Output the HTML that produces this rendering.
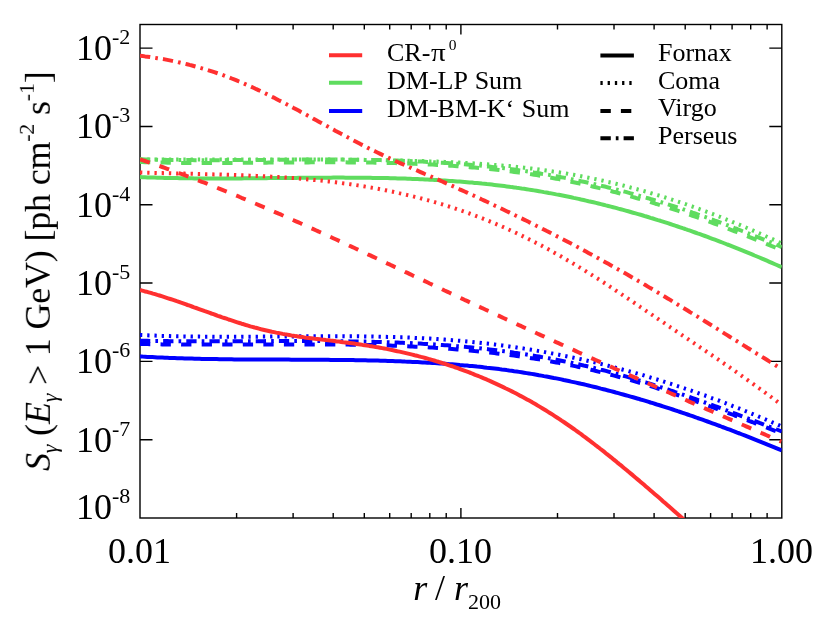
<!DOCTYPE html>
<html><head><meta charset="utf-8"><title>plot</title>
<style>
html,body{margin:0;padding:0;background:#fff;}
body{width:822px;height:617px;position:relative;overflow:hidden;font-family:"Liberation Serif",serif;color:#000;}
.t{position:absolute;white-space:nowrap;line-height:1;will-change:transform;}
.yl{font-size:36px;}
.yl sup{font-size:22px;position:relative;top:-16.4px;vertical-align:baseline;line-height:0;}
.xl{font-size:36px;}
.lg{font-size:26px;word-spacing:1.2px;}
sup.s{font-size:15.5px;position:relative;top:-11px;vertical-align:baseline;line-height:0;}
sub.s{font-size:22px;position:relative;top:8.7px;vertical-align:baseline;line-height:0;}
</style></head><body>
<svg width="822" height="617" viewBox="0 0 822 617" style="position:absolute;left:0;top:0">
<defs><clipPath id="c"><rect x="140.0" y="24.5" width="641.8" height="493.5"/></clipPath></defs>
<g stroke="#000" stroke-width="1.4" fill="none" shape-rendering="auto">
<rect x="140.0" y="24.5" width="641.80" height="493.50"/>
<path d="M236.60,518.0 v-5 M236.60,24.5 v5 M293.11,518.0 v-5 M293.11,24.5 v5 M333.20,518.0 v-5 M333.20,24.5 v5 M364.30,518.0 v-5 M364.30,24.5 v5 M389.71,518.0 v-5 M389.71,24.5 v5 M411.19,518.0 v-5 M411.19,24.5 v5 M429.80,518.0 v-5 M429.80,24.5 v5 M446.22,518.0 v-5 M446.22,24.5 v5 M460.90,518.0 v-10 M460.90,24.5 v10 M557.50,518.0 v-5 M557.50,24.5 v5 M614.01,518.0 v-5 M614.01,24.5 v5 M654.10,518.0 v-5 M654.10,24.5 v5 M685.20,518.0 v-5 M685.20,24.5 v5 M710.61,518.0 v-5 M710.61,24.5 v5 M732.09,518.0 v-5 M732.09,24.5 v5 M750.70,518.0 v-5 M750.70,24.5 v5 M767.12,518.0 v-5 M767.12,24.5 v5 M140.0,439.69 h12.5 M781.8,439.69 h-12.5 M140.0,361.38 h12.5 M781.8,361.38 h-12.5 M140.0,283.07 h12.5 M781.8,283.07 h-12.5 M140.0,204.76 h12.5 M781.8,204.76 h-12.5 M140.0,126.45 h12.5 M781.8,126.45 h-12.5 M140.0,48.14 h12.5 M781.8,48.14 h-12.5"/>
</g>
<g clip-path="url(#c)" fill="none" stroke-width="4" stroke-linejoin="round">
<path d="M140.0,177.1 L142.5,177.2 L145.0,177.3 L147.4,177.4 L149.9,177.5 L152.4,177.6 L154.9,177.6 L157.3,177.7 L159.8,177.8 L162.3,177.8 L164.8,177.9 L167.3,178.0 L169.7,178.0 L172.2,178.1 L174.7,178.1 L177.2,178.1 L179.6,178.2 L182.1,178.2 L184.6,178.3 L187.1,178.3 L189.6,178.3 L192.0,178.3 L194.5,178.4 L197.0,178.4 L199.5,178.4 L201.9,178.4 L204.4,178.4 L206.9,178.4 L209.4,178.4 L211.9,178.4 L214.3,178.4 L216.8,178.4 L219.3,178.4 L221.8,178.4 L224.3,178.4 L226.7,178.4 L229.2,178.4 L231.7,178.4 L234.2,178.4 L236.6,178.4 L239.1,178.4 L241.6,178.4 L244.1,178.3 L246.6,178.3 L249.0,178.3 L251.5,178.3 L254.0,178.3 L256.5,178.2 L258.9,178.2 L261.4,178.2 L263.9,178.2 L266.4,178.2 L268.9,178.1 L271.3,178.1 L273.8,178.1 L276.3,178.1 L278.8,178.0 L281.2,178.0 L283.7,178.0 L286.2,178.0 L288.7,177.9 L291.2,177.9 L293.6,177.9 L296.1,177.9 L298.6,177.8 L301.1,177.8 L303.5,177.8 L306.0,177.8 L308.5,177.8 L311.0,177.7 L313.5,177.7 L315.9,177.7 L318.4,177.7 L320.9,177.7 L323.4,177.7 L325.8,177.7 L328.3,177.7 L330.8,177.7 L333.3,177.6 L335.8,177.6 L338.2,177.6 L340.7,177.6 L343.2,177.6 L345.7,177.7 L348.2,177.7 L350.6,177.7 L353.1,177.7 L355.6,177.7 L358.1,177.7 L360.5,177.7 L363.0,177.8 L365.5,177.8 L368.0,177.8 L370.5,177.8 L372.9,177.9 L375.4,177.9 L377.9,177.9 L380.4,178.0 L382.8,178.0 L385.3,178.1 L387.8,178.1 L390.3,178.2 L392.8,178.3 L395.2,178.3 L397.7,178.4 L400.2,178.5 L402.7,178.5 L405.1,178.6 L407.6,178.7 L410.1,178.8 L412.6,178.9 L415.1,179.0 L417.5,179.1 L420.0,179.2 L422.5,179.3 L425.0,179.4 L427.4,179.5 L429.9,179.7 L432.4,179.8 L434.9,179.9 L437.4,180.1 L439.8,180.2 L442.3,180.4 L444.8,180.5 L447.3,180.7 L449.7,180.9 L452.2,181.0 L454.7,181.2 L457.2,181.4 L459.7,181.6 L462.1,181.8 L464.6,182.0 L467.1,182.2 L469.6,182.4 L472.1,182.6 L474.5,182.9 L477.0,183.1 L479.5,183.3 L482.0,183.6 L484.4,183.8 L486.9,184.1 L489.4,184.3 L491.9,184.6 L494.4,184.9 L496.8,185.2 L499.3,185.5 L501.8,185.8 L504.3,186.1 L506.7,186.4 L509.2,186.7 L511.7,187.1 L514.2,187.4 L516.7,187.8 L519.1,188.1 L521.6,188.5 L524.1,188.8 L526.6,189.2 L529.0,189.6 L531.5,190.0 L534.0,190.4 L536.5,190.8 L539.0,191.2 L541.4,191.6 L543.9,192.1 L546.4,192.5 L548.9,193.0 L551.3,193.4 L553.8,193.9 L556.3,194.4 L558.8,194.8 L561.3,195.3 L563.7,195.8 L566.2,196.3 L568.7,196.8 L571.2,197.3 L573.6,197.9 L576.1,198.4 L578.6,198.9 L581.1,199.5 L583.6,200.0 L586.0,200.6 L588.5,201.2 L591.0,201.7 L593.5,202.3 L596.0,202.9 L598.4,203.5 L600.9,204.1 L603.4,204.7 L605.9,205.4 L608.3,206.0 L610.8,206.6 L613.3,207.3 L615.8,207.9 L618.3,208.6 L620.7,209.2 L623.2,209.9 L625.7,210.6 L628.2,211.3 L630.6,212.0 L633.1,212.7 L635.6,213.4 L638.1,214.1 L640.6,214.8 L643.0,215.5 L645.5,216.3 L648.0,217.0 L650.5,217.8 L652.9,218.5 L655.4,219.3 L657.9,220.1 L660.4,220.8 L662.9,221.6 L665.3,222.4 L667.8,223.2 L670.3,224.0 L672.8,224.8 L675.2,225.7 L677.7,226.5 L680.2,227.3 L682.7,228.2 L685.2,229.0 L687.6,229.9 L690.1,230.7 L692.6,231.6 L695.1,232.5 L697.5,233.4 L700.0,234.2 L702.5,235.1 L705.0,236.0 L707.5,236.9 L709.9,237.9 L712.4,238.8 L714.9,239.7 L717.4,240.6 L719.9,241.6 L722.3,242.5 L724.8,243.5 L727.3,244.5 L729.8,245.4 L732.2,246.4 L734.7,247.4 L737.2,248.4 L739.7,249.4 L742.2,250.4 L744.6,251.4 L747.1,252.4 L749.6,253.4 L752.1,254.4 L754.5,255.5 L757.0,256.5 L759.5,257.5 L762.0,258.6 L764.5,259.7 L766.9,260.7 L769.4,261.8 L771.9,262.9 L774.4,264.0 L776.8,265.0 L779.3,266.1 L781.8,267.2" stroke="#5fdc5f"/>
<path d="M140.0,159.5 L142.5,159.5 L145.0,159.5 L147.4,159.5 L149.9,159.5 L152.4,159.5 L154.9,159.5 L157.3,159.6 L159.8,159.6 L162.3,159.6 L164.8,159.6 L167.3,159.6 L169.7,159.6 L172.2,159.6 L174.7,159.6 L177.2,159.6 L179.6,159.6 L182.1,159.6 L184.6,159.6 L187.1,159.6 L189.6,159.6 L192.0,159.6 L194.5,159.6 L197.0,159.5 L199.5,159.5 L201.9,159.5 L204.4,159.5 L206.9,159.5 L209.4,159.5 L211.9,159.5 L214.3,159.5 L216.8,159.5 L219.3,159.5 L221.8,159.5 L224.3,159.5 L226.7,159.5 L229.2,159.5 L231.7,159.5 L234.2,159.5 L236.6,159.5 L239.1,159.5 L241.6,159.4 L244.1,159.4 L246.6,159.4 L249.0,159.4 L251.5,159.4 L254.0,159.4 L256.5,159.4 L258.9,159.4 L261.4,159.4 L263.9,159.4 L266.4,159.4 L268.9,159.4 L271.3,159.4 L273.8,159.4 L276.3,159.4 L278.8,159.4 L281.2,159.4 L283.7,159.4 L286.2,159.4 L288.7,159.4 L291.2,159.4 L293.6,159.4 L296.1,159.4 L298.6,159.4 L301.1,159.4 L303.5,159.4 L306.0,159.4 L308.5,159.4 L311.0,159.4 L313.5,159.5 L315.9,159.5 L318.4,159.5 L320.9,159.5 L323.4,159.5 L325.8,159.5 L328.3,159.5 L330.8,159.5 L333.3,159.6 L335.8,159.6 L338.2,159.6 L340.7,159.6 L343.2,159.6 L345.7,159.7 L348.2,159.7 L350.6,159.7 L353.1,159.7 L355.6,159.8 L358.1,159.8 L360.5,159.8 L363.0,159.9 L365.5,159.9 L368.0,159.9 L370.5,160.0 L372.9,160.0 L375.4,160.0 L377.9,160.1 L380.4,160.1 L382.8,160.2 L385.3,160.2 L387.8,160.3 L390.3,160.3 L392.8,160.4 L395.2,160.4 L397.7,160.5 L400.2,160.5 L402.7,160.6 L405.1,160.6 L407.6,160.7 L410.1,160.8 L412.6,160.8 L415.1,160.9 L417.5,161.0 L420.0,161.0 L422.5,161.1 L425.0,161.2 L427.4,161.3 L429.9,161.4 L432.4,161.4 L434.9,161.5 L437.4,161.6 L439.8,161.7 L442.3,161.8 L444.8,161.9 L447.3,162.0 L449.7,162.1 L452.2,162.2 L454.7,162.4 L457.2,162.5 L459.7,162.6 L462.1,162.7 L464.6,162.9 L467.1,163.0 L469.6,163.1 L472.1,163.3 L474.5,163.4 L477.0,163.6 L479.5,163.8 L482.0,163.9 L484.4,164.1 L486.9,164.3 L489.4,164.5 L491.9,164.7 L494.4,164.9 L496.8,165.1 L499.3,165.3 L501.8,165.5 L504.3,165.7 L506.7,165.9 L509.2,166.1 L511.7,166.4 L514.2,166.6 L516.7,166.9 L519.1,167.1 L521.6,167.4 L524.1,167.7 L526.6,168.0 L529.0,168.3 L531.5,168.5 L534.0,168.9 L536.5,169.2 L539.0,169.5 L541.4,169.8 L543.9,170.1 L546.4,170.5 L548.9,170.8 L551.3,171.2 L553.8,171.6 L556.3,171.9 L558.8,172.3 L561.3,172.7 L563.7,173.1 L566.2,173.5 L568.7,174.0 L571.2,174.4 L573.6,174.8 L576.1,175.3 L578.6,175.7 L581.1,176.2 L583.6,176.7 L586.0,177.2 L588.5,177.7 L591.0,178.2 L593.5,178.7 L596.0,179.2 L598.4,179.7 L600.9,180.3 L603.4,180.8 L605.9,181.4 L608.3,182.0 L610.8,182.5 L613.3,183.1 L615.8,183.7 L618.3,184.3 L620.7,184.9 L623.2,185.5 L625.7,186.2 L628.2,186.8 L630.6,187.5 L633.1,188.1 L635.6,188.8 L638.1,189.5 L640.6,190.1 L643.0,190.8 L645.5,191.5 L648.0,192.2 L650.5,193.0 L652.9,193.7 L655.4,194.4 L657.9,195.2 L660.4,195.9 L662.9,196.7 L665.3,197.5 L667.8,198.3 L670.3,199.1 L672.8,199.9 L675.2,200.7 L677.7,201.5 L680.2,202.3 L682.7,203.2 L685.2,204.0 L687.6,204.9 L690.1,205.7 L692.6,206.6 L695.1,207.5 L697.5,208.4 L700.0,209.3 L702.5,210.2 L705.0,211.1 L707.5,212.1 L709.9,213.0 L712.4,213.9 L714.9,214.9 L717.4,215.9 L719.9,216.8 L722.3,217.8 L724.8,218.8 L727.3,219.8 L729.8,220.8 L732.2,221.8 L734.7,222.8 L737.2,223.8 L739.7,224.8 L742.2,225.9 L744.6,226.9 L747.1,228.0 L749.6,229.0 L752.1,230.1 L754.5,231.2 L757.0,232.3 L759.5,233.4 L762.0,234.5 L764.5,235.6 L766.9,236.7 L769.4,237.8 L771.9,238.9 L774.4,240.0 L776.8,241.2 L779.3,242.3 L781.8,243.5" stroke="#5fdc5f" stroke-dasharray="2.3 4.93"/>
<path d="M140.0,162.1 L142.5,162.1 L145.0,162.2 L147.4,162.3 L149.9,162.3 L152.4,162.4 L154.9,162.5 L157.3,162.5 L159.8,162.6 L162.3,162.6 L164.8,162.6 L167.3,162.7 L169.7,162.7 L172.2,162.8 L174.7,162.8 L177.2,162.8 L179.6,162.8 L182.1,162.9 L184.6,162.9 L187.1,162.9 L189.6,162.9 L192.0,162.9 L194.5,163.0 L197.0,163.0 L199.5,163.0 L201.9,163.0 L204.4,163.0 L206.9,163.0 L209.4,163.0 L211.9,163.0 L214.3,163.0 L216.8,163.0 L219.3,163.0 L221.8,163.0 L224.3,163.0 L226.7,162.9 L229.2,162.9 L231.7,162.9 L234.2,162.9 L236.6,162.9 L239.1,162.9 L241.6,162.9 L244.1,162.8 L246.6,162.8 L249.0,162.8 L251.5,162.8 L254.0,162.8 L256.5,162.7 L258.9,162.7 L261.4,162.7 L263.9,162.7 L266.4,162.7 L268.9,162.6 L271.3,162.6 L273.8,162.6 L276.3,162.6 L278.8,162.6 L281.2,162.5 L283.7,162.5 L286.2,162.5 L288.7,162.5 L291.2,162.5 L293.6,162.4 L296.1,162.4 L298.6,162.4 L301.1,162.4 L303.5,162.4 L306.0,162.4 L308.5,162.4 L311.0,162.3 L313.5,162.3 L315.9,162.3 L318.4,162.3 L320.9,162.3 L323.4,162.3 L325.8,162.3 L328.3,162.3 L330.8,162.3 L333.3,162.3 L335.8,162.3 L338.2,162.3 L340.7,162.3 L343.2,162.3 L345.7,162.3 L348.2,162.4 L350.6,162.4 L353.1,162.4 L355.6,162.4 L358.1,162.4 L360.5,162.5 L363.0,162.5 L365.5,162.5 L368.0,162.5 L370.5,162.6 L372.9,162.6 L375.4,162.7 L377.9,162.7 L380.4,162.8 L382.8,162.8 L385.3,162.9 L387.8,162.9 L390.3,163.0 L392.8,163.1 L395.2,163.1 L397.7,163.2 L400.2,163.3 L402.7,163.3 L405.1,163.4 L407.6,163.5 L410.1,163.6 L412.6,163.7 L415.1,163.8 L417.5,163.9 L420.0,164.0 L422.5,164.1 L425.0,164.2 L427.4,164.4 L429.9,164.5 L432.4,164.6 L434.9,164.7 L437.4,164.9 L439.8,165.0 L442.3,165.2 L444.8,165.3 L447.3,165.5 L449.7,165.7 L452.2,165.8 L454.7,166.0 L457.2,166.2 L459.7,166.4 L462.1,166.5 L464.6,166.7 L467.1,166.9 L469.6,167.2 L472.1,167.4 L474.5,167.6 L477.0,167.8 L479.5,168.0 L482.0,168.3 L484.4,168.5 L486.9,168.8 L489.4,169.0 L491.9,169.3 L494.4,169.5 L496.8,169.8 L499.3,170.1 L501.8,170.4 L504.3,170.7 L506.7,171.0 L509.2,171.3 L511.7,171.6 L514.2,171.9 L516.7,172.2 L519.1,172.6 L521.6,172.9 L524.1,173.3 L526.6,173.6 L529.0,174.0 L531.5,174.3 L534.0,174.7 L536.5,175.1 L539.0,175.5 L541.4,175.9 L543.9,176.4 L546.4,176.8 L548.9,177.3 L551.3,177.7 L553.8,178.2 L556.3,178.7 L558.8,179.1 L561.3,179.6 L563.7,180.1 L566.2,180.6 L568.7,181.1 L571.2,181.7 L573.6,182.2 L576.1,182.7 L578.6,183.3 L581.1,183.8 L583.6,184.4 L586.0,184.9 L588.5,185.5 L591.0,186.1 L593.5,186.7 L596.0,187.3 L598.4,187.9 L600.9,188.5 L603.4,189.1 L605.9,189.7 L608.3,190.4 L610.8,191.0 L613.3,191.7 L615.8,192.3 L618.3,193.0 L620.7,193.7 L623.2,194.3 L625.7,195.0 L628.2,195.7 L630.6,196.4 L633.1,197.1 L635.6,197.8 L638.1,198.6 L640.6,199.3 L643.0,200.0 L645.5,200.7 L648.0,201.4 L650.5,202.2 L652.9,202.9 L655.4,203.7 L657.9,204.4 L660.4,205.2 L662.9,205.9 L665.3,206.7 L667.8,207.5 L670.3,208.3 L672.8,209.1 L675.2,209.9 L677.7,210.7 L680.2,211.5 L682.7,212.4 L685.2,213.2 L687.6,214.0 L690.1,214.9 L692.6,215.8 L695.1,216.6 L697.5,217.5 L700.0,218.4 L702.5,219.3 L705.0,220.1 L707.5,221.0 L709.9,221.9 L712.4,222.8 L714.9,223.8 L717.4,224.7 L719.9,225.6 L722.3,226.5 L724.8,227.5 L727.3,228.4 L729.8,229.4 L732.2,230.3 L734.7,231.3 L737.2,232.2 L739.7,233.2 L742.2,234.2 L744.6,235.1 L747.1,236.1 L749.6,237.1 L752.1,238.1 L754.5,239.1 L757.0,240.1 L759.5,241.1 L762.0,242.1 L764.5,243.1 L766.9,244.1 L769.4,245.1 L771.9,246.2 L774.4,247.2 L776.8,248.2 L779.3,249.2 L781.8,250.3" stroke="#5fdc5f" stroke-dasharray="10.3 10.26"/>
<path d="M140.0,159.3 L142.5,159.3 L145.0,159.4 L147.4,159.5 L149.9,159.5 L152.4,159.6 L154.9,159.7 L157.3,159.7 L159.8,159.8 L162.3,159.8 L164.8,159.8 L167.3,159.9 L169.7,159.9 L172.2,160.0 L174.7,160.0 L177.2,160.0 L179.6,160.0 L182.1,160.1 L184.6,160.1 L187.1,160.1 L189.6,160.1 L192.0,160.1 L194.5,160.2 L197.0,160.2 L199.5,160.2 L201.9,160.2 L204.4,160.2 L206.9,160.2 L209.4,160.2 L211.9,160.2 L214.3,160.2 L216.8,160.2 L219.3,160.2 L221.8,160.2 L224.3,160.2 L226.7,160.1 L229.2,160.1 L231.7,160.1 L234.2,160.1 L236.6,160.1 L239.1,160.1 L241.6,160.1 L244.1,160.0 L246.6,160.0 L249.0,160.0 L251.5,160.0 L254.0,160.0 L256.5,159.9 L258.9,159.9 L261.4,159.9 L263.9,159.9 L266.4,159.9 L268.9,159.8 L271.3,159.8 L273.8,159.8 L276.3,159.8 L278.8,159.8 L281.2,159.7 L283.7,159.7 L286.2,159.7 L288.7,159.7 L291.2,159.7 L293.6,159.6 L296.1,159.6 L298.6,159.6 L301.1,159.6 L303.5,159.6 L306.0,159.6 L308.5,159.6 L311.0,159.6 L313.5,159.6 L315.9,159.6 L318.4,159.6 L320.9,159.6 L323.4,159.6 L325.8,159.6 L328.3,159.6 L330.8,159.6 L333.3,159.6 L335.8,159.6 L338.2,159.6 L340.7,159.6 L343.2,159.6 L345.7,159.6 L348.2,159.7 L350.6,159.7 L353.1,159.7 L355.6,159.7 L358.1,159.8 L360.5,159.8 L363.0,159.8 L365.5,159.9 L368.0,159.9 L370.5,159.9 L372.9,160.0 L375.4,160.0 L377.9,160.1 L380.4,160.1 L382.8,160.2 L385.3,160.3 L387.8,160.3 L390.3,160.4 L392.8,160.5 L395.2,160.5 L397.7,160.6 L400.2,160.7 L402.7,160.8 L405.1,160.9 L407.6,161.0 L410.1,161.1 L412.6,161.2 L415.1,161.3 L417.5,161.4 L420.0,161.5 L422.5,161.6 L425.0,161.7 L427.4,161.9 L429.9,162.0 L432.4,162.1 L434.9,162.3 L437.4,162.4 L439.8,162.6 L442.3,162.7 L444.8,162.9 L447.3,163.0 L449.7,163.2 L452.2,163.4 L454.7,163.5 L457.2,163.7 L459.7,163.9 L462.1,164.1 L464.6,164.3 L467.1,164.5 L469.6,164.7 L472.1,165.0 L474.5,165.2 L477.0,165.4 L479.5,165.6 L482.0,165.9 L484.4,166.1 L486.9,166.4 L489.4,166.6 L491.9,166.9 L494.4,167.2 L496.8,167.5 L499.3,167.7 L501.8,168.0 L504.3,168.3 L506.7,168.6 L509.2,169.0 L511.7,169.3 L514.2,169.6 L516.7,169.9 L519.1,170.3 L521.6,170.6 L524.1,171.0 L526.6,171.3 L529.0,171.7 L531.5,172.1 L534.0,172.5 L536.5,172.8 L539.0,173.2 L541.4,173.7 L543.9,174.1 L546.4,174.5 L548.9,174.9 L551.3,175.3 L553.8,175.8 L556.3,176.2 L558.8,176.7 L561.3,177.2 L563.7,177.6 L566.2,178.1 L568.7,178.6 L571.2,179.1 L573.6,179.6 L576.1,180.1 L578.6,180.6 L581.1,181.2 L583.6,181.7 L586.0,182.2 L588.5,182.8 L591.0,183.3 L593.5,183.9 L596.0,184.5 L598.4,185.1 L600.9,185.7 L603.4,186.2 L605.9,186.8 L608.3,187.5 L610.8,188.1 L613.3,188.7 L615.8,189.3 L618.3,190.0 L620.7,190.6 L623.2,191.3 L625.7,191.9 L628.2,192.6 L630.6,193.3 L633.1,194.0 L635.6,194.7 L638.1,195.4 L640.6,196.1 L643.0,196.8 L645.5,197.5 L648.0,198.2 L650.5,199.0 L652.9,199.7 L655.4,200.5 L657.9,201.2 L660.4,202.0 L662.9,202.7 L665.3,203.5 L667.8,204.3 L670.3,205.1 L672.8,205.9 L675.2,206.7 L677.7,207.5 L680.2,208.3 L682.7,209.2 L685.2,210.0 L687.6,210.8 L690.1,211.7 L692.6,212.6 L695.1,213.4 L697.5,214.3 L700.0,215.2 L702.5,216.1 L705.0,216.9 L707.5,217.8 L709.9,218.7 L712.4,219.6 L714.9,220.6 L717.4,221.5 L719.9,222.4 L722.3,223.3 L724.8,224.3 L727.3,225.2 L729.8,226.2 L732.2,227.1 L734.7,228.1 L737.2,229.0 L739.7,230.0 L742.2,231.0 L744.6,231.9 L747.1,232.9 L749.6,233.9 L752.1,234.9 L754.5,235.9 L757.0,236.9 L759.5,237.9 L762.0,238.9 L764.5,239.9 L766.9,240.9 L769.4,241.9 L771.9,243.0 L774.4,244.0 L776.8,245.0 L779.3,246.0 L781.8,247.1" stroke="#5fdc5f" stroke-dasharray="10.3 5.1 2.65 5.1"/>
<path d="M140.0,356.4 L142.5,356.6 L145.0,356.7 L147.4,356.9 L149.9,357.0 L152.4,357.1 L154.9,357.2 L157.3,357.4 L159.8,357.5 L162.3,357.6 L164.8,357.7 L167.3,357.8 L169.7,357.9 L172.2,358.0 L174.7,358.1 L177.2,358.2 L179.6,358.3 L182.1,358.3 L184.6,358.4 L187.1,358.5 L189.6,358.6 L192.0,358.6 L194.5,358.7 L197.0,358.8 L199.5,358.8 L201.9,358.9 L204.4,358.9 L206.9,359.0 L209.4,359.0 L211.9,359.1 L214.3,359.1 L216.8,359.1 L219.3,359.2 L221.8,359.2 L224.3,359.2 L226.7,359.3 L229.2,359.3 L231.7,359.3 L234.2,359.4 L236.6,359.4 L239.1,359.4 L241.6,359.4 L244.1,359.4 L246.6,359.5 L249.0,359.5 L251.5,359.5 L254.0,359.5 L256.5,359.5 L258.9,359.5 L261.4,359.6 L263.9,359.6 L266.4,359.6 L268.9,359.6 L271.3,359.6 L273.8,359.6 L276.3,359.6 L278.8,359.6 L281.2,359.6 L283.7,359.6 L286.2,359.6 L288.7,359.6 L291.2,359.7 L293.6,359.7 L296.1,359.7 L298.6,359.7 L301.1,359.7 L303.5,359.7 L306.0,359.7 L308.5,359.7 L311.0,359.7 L313.5,359.7 L315.9,359.8 L318.4,359.8 L320.9,359.8 L323.4,359.8 L325.8,359.8 L328.3,359.8 L330.8,359.9 L333.3,359.9 L335.8,359.9 L338.2,359.9 L340.7,360.0 L343.2,360.0 L345.7,360.0 L348.2,360.0 L350.6,360.1 L353.1,360.1 L355.6,360.2 L358.1,360.2 L360.5,360.2 L363.0,360.3 L365.5,360.3 L368.0,360.4 L370.5,360.4 L372.9,360.5 L375.4,360.6 L377.9,360.6 L380.4,360.7 L382.8,360.8 L385.3,360.8 L387.8,360.9 L390.3,361.0 L392.8,361.1 L395.2,361.2 L397.7,361.3 L400.2,361.3 L402.7,361.4 L405.1,361.6 L407.6,361.7 L410.1,361.8 L412.6,361.9 L415.1,362.0 L417.5,362.1 L420.0,362.2 L422.5,362.4 L425.0,362.5 L427.4,362.7 L429.9,362.8 L432.4,363.0 L434.9,363.1 L437.4,363.3 L439.8,363.4 L442.3,363.6 L444.8,363.8 L447.3,364.0 L449.7,364.2 L452.2,364.3 L454.7,364.5 L457.2,364.7 L459.7,365.0 L462.1,365.2 L464.6,365.4 L467.1,365.6 L469.6,365.9 L472.1,366.1 L474.5,366.3 L477.0,366.6 L479.5,366.8 L482.0,367.1 L484.4,367.4 L486.9,367.7 L489.4,367.9 L491.9,368.2 L494.4,368.5 L496.8,368.8 L499.3,369.1 L501.8,369.5 L504.3,369.8 L506.7,370.1 L509.2,370.5 L511.7,370.8 L514.2,371.2 L516.7,371.5 L519.1,371.9 L521.6,372.3 L524.1,372.7 L526.6,373.1 L529.0,373.5 L531.5,373.9 L534.0,374.3 L536.5,374.7 L539.0,375.2 L541.4,375.6 L543.9,376.1 L546.4,376.5 L548.9,377.0 L551.3,377.5 L553.8,378.0 L556.3,378.4 L558.8,378.9 L561.3,379.4 L563.7,380.0 L566.2,380.5 L568.7,381.0 L571.2,381.6 L573.6,382.1 L576.1,382.6 L578.6,383.2 L581.1,383.8 L583.6,384.3 L586.0,384.9 L588.5,385.5 L591.0,386.1 L593.5,386.7 L596.0,387.3 L598.4,387.9 L600.9,388.6 L603.4,389.2 L605.9,389.8 L608.3,390.5 L610.8,391.1 L613.3,391.8 L615.8,392.5 L618.3,393.1 L620.7,393.8 L623.2,394.5 L625.7,395.2 L628.2,395.9 L630.6,396.6 L633.1,397.3 L635.6,398.0 L638.1,398.7 L640.6,399.5 L643.0,400.2 L645.5,400.9 L648.0,401.7 L650.5,402.5 L652.9,403.2 L655.4,404.0 L657.9,404.8 L660.4,405.5 L662.9,406.3 L665.3,407.1 L667.8,407.9 L670.3,408.7 L672.8,409.5 L675.2,410.3 L677.7,411.2 L680.2,412.0 L682.7,412.8 L685.2,413.7 L687.6,414.5 L690.1,415.4 L692.6,416.2 L695.1,417.1 L697.5,418.0 L700.0,418.8 L702.5,419.7 L705.0,420.6 L707.5,421.5 L709.9,422.4 L712.4,423.3 L714.9,424.2 L717.4,425.1 L719.9,426.0 L722.3,427.0 L724.8,427.9 L727.3,428.8 L729.8,429.7 L732.2,430.7 L734.7,431.6 L737.2,432.6 L739.7,433.5 L742.2,434.5 L744.6,435.4 L747.1,436.4 L749.6,437.4 L752.1,438.4 L754.5,439.3 L757.0,440.3 L759.5,441.3 L762.0,442.3 L764.5,443.3 L766.9,444.3 L769.4,445.3 L771.9,446.3 L774.4,447.3 L776.8,448.3 L779.3,449.3 L781.8,450.3" stroke="#0000ff"/>
<path d="M140.0,335.0 L142.5,335.1 L145.0,335.2 L147.4,335.3 L149.9,335.4 L152.4,335.5 L154.9,335.6 L157.3,335.7 L159.8,335.8 L162.3,335.9 L164.8,336.0 L167.3,336.0 L169.7,336.1 L172.2,336.2 L174.7,336.2 L177.2,336.3 L179.6,336.3 L182.1,336.4 L184.6,336.4 L187.1,336.5 L189.6,336.5 L192.0,336.6 L194.5,336.6 L197.0,336.6 L199.5,336.6 L201.9,336.7 L204.4,336.7 L206.9,336.7 L209.4,336.7 L211.9,336.7 L214.3,336.8 L216.8,336.8 L219.3,336.8 L221.8,336.8 L224.3,336.8 L226.7,336.8 L229.2,336.8 L231.7,336.8 L234.2,336.8 L236.6,336.8 L239.1,336.8 L241.6,336.7 L244.1,336.7 L246.6,336.7 L249.0,336.7 L251.5,336.7 L254.0,336.7 L256.5,336.7 L258.9,336.7 L261.4,336.6 L263.9,336.6 L266.4,336.6 L268.9,336.6 L271.3,336.6 L273.8,336.5 L276.3,336.5 L278.8,336.5 L281.2,336.5 L283.7,336.5 L286.2,336.4 L288.7,336.4 L291.2,336.4 L293.6,336.4 L296.1,336.4 L298.6,336.3 L301.1,336.3 L303.5,336.3 L306.0,336.3 L308.5,336.3 L311.0,336.3 L313.5,336.3 L315.9,336.3 L318.4,336.2 L320.9,336.2 L323.4,336.2 L325.8,336.2 L328.3,336.2 L330.8,336.2 L333.3,336.2 L335.8,336.2 L338.2,336.2 L340.7,336.2 L343.2,336.2 L345.7,336.3 L348.2,336.3 L350.6,336.3 L353.1,336.3 L355.6,336.3 L358.1,336.3 L360.5,336.4 L363.0,336.4 L365.5,336.4 L368.0,336.5 L370.5,336.5 L372.9,336.5 L375.4,336.6 L377.9,336.6 L380.4,336.7 L382.8,336.8 L385.3,336.8 L387.8,336.9 L390.3,336.9 L392.8,337.0 L395.2,337.1 L397.7,337.2 L400.2,337.3 L402.7,337.3 L405.1,337.4 L407.6,337.5 L410.1,337.6 L412.6,337.7 L415.1,337.9 L417.5,338.0 L420.0,338.1 L422.5,338.2 L425.0,338.4 L427.4,338.5 L429.9,338.6 L432.4,338.8 L434.9,338.9 L437.4,339.1 L439.8,339.3 L442.3,339.4 L444.8,339.6 L447.3,339.8 L449.7,340.0 L452.2,340.2 L454.7,340.4 L457.2,340.6 L459.7,340.8 L462.1,341.0 L464.6,341.2 L467.1,341.5 L469.6,341.7 L472.1,341.9 L474.5,342.2 L477.0,342.4 L479.5,342.7 L482.0,343.0 L484.4,343.3 L486.9,343.5 L489.4,343.8 L491.9,344.1 L494.4,344.4 L496.8,344.7 L499.3,345.1 L501.8,345.4 L504.3,345.7 L506.7,346.1 L509.2,346.4 L511.7,346.8 L514.2,347.1 L516.7,347.5 L519.1,347.9 L521.6,348.2 L524.1,348.6 L526.6,349.0 L529.0,349.4 L531.5,349.8 L534.0,350.2 L536.5,350.6 L539.0,351.1 L541.4,351.5 L543.9,351.9 L546.4,352.4 L548.9,352.8 L551.3,353.3 L553.8,353.7 L556.3,354.2 L558.8,354.7 L561.3,355.2 L563.7,355.7 L566.2,356.2 L568.7,356.7 L571.2,357.2 L573.6,357.7 L576.1,358.2 L578.6,358.8 L581.1,359.3 L583.6,359.9 L586.0,360.4 L588.5,361.0 L591.0,361.6 L593.5,362.1 L596.0,362.7 L598.4,363.3 L600.9,363.9 L603.4,364.5 L605.9,365.2 L608.3,365.8 L610.8,366.4 L613.3,367.0 L615.8,367.7 L618.3,368.3 L620.7,369.0 L623.2,369.7 L625.7,370.3 L628.2,371.0 L630.6,371.7 L633.1,372.4 L635.6,373.1 L638.1,373.8 L640.6,374.5 L643.0,375.2 L645.5,376.0 L648.0,376.7 L650.5,377.5 L652.9,378.2 L655.4,379.0 L657.9,379.7 L660.4,380.5 L662.9,381.3 L665.3,382.1 L667.8,382.9 L670.3,383.6 L672.8,384.5 L675.2,385.3 L677.7,386.1 L680.2,386.9 L682.7,387.7 L685.2,388.6 L687.6,389.4 L690.1,390.3 L692.6,391.1 L695.1,392.0 L697.5,392.9 L700.0,393.8 L702.5,394.7 L705.0,395.5 L707.5,396.4 L709.9,397.4 L712.4,398.3 L714.9,399.2 L717.4,400.1 L719.9,401.0 L722.3,402.0 L724.8,402.9 L727.3,403.9 L729.8,404.8 L732.2,405.8 L734.7,406.8 L737.2,407.8 L739.7,408.7 L742.2,409.7 L744.6,410.7 L747.1,411.7 L749.6,412.8 L752.1,413.8 L754.5,414.8 L757.0,415.8 L759.5,416.9 L762.0,417.9 L764.5,419.0 L766.9,420.0 L769.4,421.1 L771.9,422.2 L774.4,423.2 L776.8,424.3 L779.3,425.4 L781.8,426.5" stroke="#0000ff" stroke-dasharray="2.3 4.93"/>
<path d="M140.0,344.0 L142.5,344.0 L145.0,344.1 L147.4,344.1 L149.9,344.2 L152.4,344.2 L154.9,344.3 L157.3,344.3 L159.8,344.3 L162.3,344.4 L164.8,344.4 L167.3,344.4 L169.7,344.5 L172.2,344.5 L174.7,344.5 L177.2,344.5 L179.6,344.5 L182.1,344.6 L184.6,344.6 L187.1,344.6 L189.6,344.6 L192.0,344.6 L194.5,344.6 L197.0,344.6 L199.5,344.6 L201.9,344.6 L204.4,344.6 L206.9,344.6 L209.4,344.6 L211.9,344.6 L214.3,344.6 L216.8,344.6 L219.3,344.6 L221.8,344.6 L224.3,344.6 L226.7,344.6 L229.2,344.6 L231.7,344.6 L234.2,344.6 L236.6,344.6 L239.1,344.6 L241.6,344.6 L244.1,344.5 L246.6,344.5 L249.0,344.5 L251.5,344.5 L254.0,344.5 L256.5,344.5 L258.9,344.5 L261.4,344.5 L263.9,344.5 L266.4,344.4 L268.9,344.4 L271.3,344.4 L273.8,344.4 L276.3,344.4 L278.8,344.4 L281.2,344.4 L283.7,344.4 L286.2,344.4 L288.7,344.4 L291.2,344.4 L293.6,344.4 L296.1,344.4 L298.6,344.4 L301.1,344.4 L303.5,344.4 L306.0,344.4 L308.5,344.4 L311.0,344.4 L313.5,344.4 L315.9,344.4 L318.4,344.4 L320.9,344.4 L323.4,344.4 L325.8,344.4 L328.3,344.4 L330.8,344.5 L333.3,344.5 L335.8,344.5 L338.2,344.5 L340.7,344.5 L343.2,344.6 L345.7,344.6 L348.2,344.6 L350.6,344.7 L353.1,344.7 L355.6,344.8 L358.1,344.8 L360.5,344.8 L363.0,344.9 L365.5,344.9 L368.0,345.0 L370.5,345.1 L372.9,345.1 L375.4,345.2 L377.9,345.2 L380.4,345.3 L382.8,345.4 L385.3,345.5 L387.8,345.5 L390.3,345.6 L392.8,345.7 L395.2,345.8 L397.7,345.9 L400.2,346.0 L402.7,346.1 L405.1,346.2 L407.6,346.3 L410.1,346.4 L412.6,346.5 L415.1,346.7 L417.5,346.8 L420.0,346.9 L422.5,347.1 L425.0,347.2 L427.4,347.3 L429.9,347.5 L432.4,347.6 L434.9,347.8 L437.4,347.9 L439.8,348.1 L442.3,348.3 L444.8,348.5 L447.3,348.6 L449.7,348.8 L452.2,349.0 L454.7,349.2 L457.2,349.4 L459.7,349.6 L462.1,349.8 L464.6,350.0 L467.1,350.3 L469.6,350.5 L472.1,350.7 L474.5,351.0 L477.0,351.2 L479.5,351.5 L482.0,351.7 L484.4,352.0 L486.9,352.3 L489.4,352.5 L491.9,352.8 L494.4,353.1 L496.8,353.4 L499.3,353.7 L501.8,354.0 L504.3,354.3 L506.7,354.6 L509.2,354.9 L511.7,355.3 L514.2,355.6 L516.7,356.0 L519.1,356.3 L521.6,356.7 L524.1,357.0 L526.6,357.4 L529.0,357.8 L531.5,358.2 L534.0,358.6 L536.5,359.0 L539.0,359.4 L541.4,359.8 L543.9,360.2 L546.4,360.7 L548.9,361.1 L551.3,361.5 L553.8,362.0 L556.3,362.5 L558.8,362.9 L561.3,363.4 L563.7,363.9 L566.2,364.4 L568.7,364.9 L571.2,365.4 L573.6,365.9 L576.1,366.4 L578.6,367.0 L581.1,367.5 L583.6,368.1 L586.0,368.6 L588.5,369.2 L591.0,369.8 L593.5,370.4 L596.0,371.0 L598.4,371.6 L600.9,372.2 L603.4,372.8 L605.9,373.4 L608.3,374.1 L610.8,374.7 L613.3,375.4 L615.8,376.0 L618.3,376.7 L620.7,377.4 L623.2,378.1 L625.7,378.8 L628.2,379.5 L630.6,380.2 L633.1,380.9 L635.6,381.6 L638.1,382.4 L640.6,383.1 L643.0,383.9 L645.5,384.6 L648.0,385.4 L650.5,386.2 L652.9,386.9 L655.4,387.7 L657.9,388.5 L660.4,389.3 L662.9,390.1 L665.3,390.9 L667.8,391.7 L670.3,392.5 L672.8,393.4 L675.2,394.2 L677.7,395.0 L680.2,395.9 L682.7,396.7 L685.2,397.6 L687.6,398.4 L690.1,399.3 L692.6,400.1 L695.1,401.0 L697.5,401.9 L700.0,402.8 L702.5,403.6 L705.0,404.5 L707.5,405.4 L709.9,406.3 L712.4,407.2 L714.9,408.1 L717.4,409.0 L719.9,409.9 L722.3,410.8 L724.8,411.8 L727.3,412.7 L729.8,413.6 L732.2,414.5 L734.7,415.5 L737.2,416.4 L739.7,417.3 L742.2,418.3 L744.6,419.2 L747.1,420.1 L749.6,421.1 L752.1,422.0 L754.5,423.0 L757.0,423.9 L759.5,424.9 L762.0,425.8 L764.5,426.8 L766.9,427.7 L769.4,428.7 L771.9,429.6 L774.4,430.6 L776.8,431.5 L779.3,432.5 L781.8,433.5" stroke="#0000ff" stroke-dasharray="10.3 10.26"/>
<path d="M140.0,340.7 L142.5,340.7 L145.0,340.8 L147.4,340.8 L149.9,340.9 L152.4,340.9 L154.9,341.0 L157.3,341.0 L159.8,341.0 L162.3,341.1 L164.8,341.1 L167.3,341.1 L169.7,341.2 L172.2,341.2 L174.7,341.2 L177.2,341.2 L179.6,341.2 L182.1,341.3 L184.6,341.3 L187.1,341.3 L189.6,341.3 L192.0,341.3 L194.5,341.3 L197.0,341.3 L199.5,341.3 L201.9,341.3 L204.4,341.3 L206.9,341.3 L209.4,341.3 L211.9,341.3 L214.3,341.3 L216.8,341.3 L219.3,341.3 L221.8,341.3 L224.3,341.3 L226.7,341.3 L229.2,341.3 L231.7,341.3 L234.2,341.3 L236.6,341.3 L239.1,341.3 L241.6,341.3 L244.1,341.2 L246.6,341.2 L249.0,341.2 L251.5,341.2 L254.0,341.2 L256.5,341.2 L258.9,341.2 L261.4,341.2 L263.9,341.2 L266.4,341.1 L268.9,341.1 L271.3,341.1 L273.8,341.1 L276.3,341.1 L278.8,341.1 L281.2,341.1 L283.7,341.1 L286.2,341.1 L288.7,341.1 L291.2,341.1 L293.6,341.1 L296.1,341.1 L298.6,341.1 L301.1,341.1 L303.5,341.1 L306.0,341.1 L308.5,341.1 L311.0,341.1 L313.5,341.1 L315.9,341.1 L318.4,341.1 L320.9,341.1 L323.4,341.1 L325.8,341.1 L328.3,341.1 L330.8,341.2 L333.3,341.2 L335.8,341.2 L338.2,341.2 L340.7,341.2 L343.2,341.3 L345.7,341.3 L348.2,341.3 L350.6,341.4 L353.1,341.4 L355.6,341.5 L358.1,341.5 L360.5,341.5 L363.0,341.6 L365.5,341.6 L368.0,341.7 L370.5,341.8 L372.9,341.8 L375.4,341.9 L377.9,341.9 L380.4,342.0 L382.8,342.1 L385.3,342.2 L387.8,342.2 L390.3,342.3 L392.8,342.4 L395.2,342.5 L397.7,342.6 L400.2,342.7 L402.7,342.8 L405.1,342.9 L407.6,343.0 L410.1,343.1 L412.6,343.2 L415.1,343.4 L417.5,343.5 L420.0,343.6 L422.5,343.8 L425.0,343.9 L427.4,344.0 L429.9,344.2 L432.4,344.3 L434.9,344.5 L437.4,344.6 L439.8,344.8 L442.3,345.0 L444.8,345.2 L447.3,345.3 L449.7,345.5 L452.2,345.7 L454.7,345.9 L457.2,346.2 L459.7,346.4 L462.1,346.6 L464.6,346.8 L467.1,347.1 L469.6,347.3 L472.1,347.5 L474.5,347.8 L477.0,348.1 L479.5,348.3 L482.0,348.6 L484.4,348.9 L486.9,349.1 L489.4,349.4 L491.9,349.7 L494.4,350.0 L496.8,350.3 L499.3,350.6 L501.8,351.0 L504.3,351.3 L506.7,351.6 L509.2,352.0 L511.7,352.3 L514.2,352.7 L516.7,353.0 L519.1,353.4 L521.6,353.7 L524.1,354.1 L526.6,354.5 L529.0,354.9 L531.5,355.3 L534.0,355.7 L536.5,356.1 L539.0,356.5 L541.4,357.0 L543.9,357.4 L546.4,357.9 L548.9,358.3 L551.3,358.8 L553.8,359.2 L556.3,359.7 L558.8,360.2 L561.3,360.7 L563.7,361.2 L566.2,361.7 L568.7,362.2 L571.2,362.7 L573.6,363.3 L576.1,363.8 L578.6,364.3 L581.1,364.9 L583.6,365.5 L586.0,366.0 L588.5,366.6 L591.0,367.2 L593.5,367.8 L596.0,368.4 L598.4,369.0 L600.9,369.7 L603.4,370.3 L605.9,370.9 L608.3,371.6 L610.8,372.3 L613.3,372.9 L615.8,373.6 L618.3,374.3 L620.7,375.0 L623.2,375.7 L625.7,376.4 L628.2,377.1 L630.6,377.8 L633.1,378.6 L635.6,379.3 L638.1,380.1 L640.6,380.8 L643.0,381.6 L645.5,382.3 L648.0,383.1 L650.5,383.9 L652.9,384.7 L655.4,385.5 L657.9,386.3 L660.4,387.1 L662.9,387.9 L665.3,388.7 L667.8,389.5 L670.3,390.4 L672.8,391.2 L675.2,392.1 L677.7,392.9 L680.2,393.8 L682.7,394.6 L685.2,395.5 L687.6,396.3 L690.1,397.2 L692.6,398.1 L695.1,399.0 L697.5,399.9 L700.0,400.8 L702.5,401.6 L705.0,402.5 L707.5,403.4 L709.9,404.3 L712.4,405.2 L714.9,406.1 L717.4,407.0 L719.9,407.9 L722.3,408.8 L724.8,409.8 L727.3,410.7 L729.8,411.6 L732.2,412.5 L734.7,413.5 L737.2,414.4 L739.7,415.3 L742.2,416.3 L744.6,417.2 L747.1,418.1 L749.6,419.1 L752.1,420.0 L754.5,421.0 L757.0,421.9 L759.5,422.9 L762.0,423.8 L764.5,424.8 L766.9,425.7 L769.4,426.7 L771.9,427.6 L774.4,428.6 L776.8,429.5 L779.3,430.5 L781.8,431.5" stroke="#0000ff" stroke-dasharray="10.3 5.1 2.65 5.1"/>
<path d="M140.0,290.0 L142.2,290.6 L144.3,291.2 L146.5,291.7 L148.6,292.3 L150.8,292.9 L153.0,293.6 L155.1,294.2 L157.3,294.9 L159.5,295.5 L161.6,296.2 L163.8,296.9 L165.9,297.6 L168.1,298.3 L170.3,299.0 L172.4,299.7 L174.6,300.4 L176.8,301.2 L178.9,301.9 L181.1,302.7 L183.2,303.4 L185.4,304.2 L187.6,305.0 L189.7,305.7 L191.9,306.5 L194.1,307.3 L196.2,308.0 L198.4,308.8 L200.5,309.6 L202.7,310.4 L204.9,311.2 L207.0,311.9 L209.2,312.7 L211.4,313.5 L213.5,314.2 L215.7,315.0 L217.8,315.8 L220.0,316.5 L222.2,317.3 L224.3,318.0 L226.5,318.7 L228.6,319.5 L230.8,320.2 L233.0,320.9 L235.1,321.6 L237.3,322.3 L239.5,323.0 L241.6,323.7 L243.8,324.3 L245.9,325.0 L248.1,325.6 L250.3,326.3 L252.4,326.9 L254.6,327.5 L256.8,328.0 L258.9,328.6 L261.1,329.2 L263.2,329.7 L265.4,330.2 L267.6,330.7 L269.7,331.2 L271.9,331.7 L274.1,332.1 L276.2,332.6 L278.4,333.0 L280.5,333.4 L282.7,333.9 L284.9,334.3 L287.0,334.6 L289.2,335.0 L291.4,335.4 L293.5,335.7 L295.7,336.1 L297.8,336.4 L300.0,336.7 L302.2,337.0 L304.3,337.4 L306.5,337.7 L308.6,337.9 L310.8,338.2 L313.0,338.5 L315.1,338.8 L317.3,339.0 L319.5,339.3 L321.6,339.6 L323.8,339.8 L325.9,340.1 L328.1,340.3 L330.3,340.6 L332.4,340.8 L334.6,341.1 L336.8,341.4 L338.9,341.6 L341.1,341.9 L343.2,342.2 L345.4,342.4 L347.6,342.7 L349.7,343.0 L351.9,343.3 L354.1,343.6 L356.2,343.9 L358.4,344.2 L360.5,344.5 L362.7,344.9 L364.9,345.2 L367.0,345.5 L369.2,345.9 L371.4,346.2 L373.5,346.6 L375.7,347.0 L377.8,347.3 L380.0,347.7 L382.2,348.1 L384.3,348.5 L386.5,348.9 L388.6,349.4 L390.8,349.8 L393.0,350.2 L395.1,350.7 L397.3,351.2 L399.5,351.6 L401.6,352.1 L403.8,352.6 L405.9,353.1 L408.1,353.6 L410.3,354.1 L412.4,354.6 L414.6,355.2 L416.8,355.7 L418.9,356.3 L421.1,356.9 L423.2,357.4 L425.4,358.0 L427.6,358.6 L429.7,359.3 L431.9,359.9 L434.1,360.5 L436.2,361.2 L438.4,361.8 L440.5,362.5 L442.7,363.2 L444.9,363.8 L447.0,364.5 L449.2,365.3 L451.4,366.0 L453.5,366.7 L455.7,367.5 L457.8,368.2 L460.0,369.0 L462.2,369.8 L464.3,370.6 L466.5,371.4 L468.6,372.2 L470.8,373.0 L473.0,373.9 L475.1,374.8 L477.3,375.6 L479.5,376.5 L481.6,377.4 L483.8,378.3 L485.9,379.2 L488.1,380.2 L490.3,381.1 L492.4,382.1 L494.6,383.1 L496.8,384.1 L498.9,385.1 L501.1,386.1 L503.2,387.1 L505.4,388.2 L507.6,389.2 L509.7,390.3 L511.9,391.4 L514.1,392.5 L516.2,393.6 L518.4,394.7 L520.5,395.9 L522.7,397.0 L524.9,398.2 L527.0,399.4 L529.2,400.6 L531.4,401.8 L533.5,403.1 L535.7,404.3 L537.8,405.6 L540.0,406.9 L542.2,408.2 L544.3,409.5 L546.5,410.8 L548.6,412.2 L550.8,413.5 L553.0,414.9 L555.1,416.3 L557.3,417.7 L559.5,419.1 L561.6,420.6 L563.8,422.0 L565.9,423.5 L568.1,425.0 L570.3,426.5 L572.4,428.0 L574.6,429.5 L576.8,431.1 L578.9,432.7 L581.1,434.2 L583.2,435.8 L585.4,437.4 L587.6,439.1 L589.7,440.7 L591.9,442.3 L594.1,444.0 L596.2,445.7 L598.4,447.3 L600.5,449.0 L602.7,450.7 L604.9,452.4 L607.0,454.2 L609.2,455.9 L611.4,457.6 L613.5,459.4 L615.7,461.1 L617.8,462.9 L620.0,464.7 L622.2,466.4 L624.3,468.2 L626.5,470.0 L628.6,471.8 L630.8,473.6 L633.0,475.4 L635.1,477.3 L637.3,479.1 L639.5,480.9 L641.6,482.7 L643.8,484.6 L645.9,486.4 L648.1,488.3 L650.3,490.2 L652.4,492.0 L654.6,493.9 L656.8,495.8 L658.9,497.6 L661.1,499.5 L663.2,501.4 L665.4,503.3 L667.6,505.2 L669.7,507.1 L671.9,509.0 L674.1,510.9 L676.2,512.8 L678.4,514.7 L680.5,516.6 L682.7,518.5 L684.9,520.4 L687.0,522.3 L689.2,524.2 L691.4,526.1 L693.5,528.1 L695.7,530.0 L697.8,531.9 L700.0,533.8" stroke="#ff3030"/>
<path d="M140.0,172.5 L142.5,172.6 L145.0,172.7 L147.4,172.7 L149.9,172.8 L152.4,172.9 L154.9,172.9 L157.3,173.0 L159.8,173.1 L162.3,173.1 L164.8,173.2 L167.3,173.2 L169.7,173.3 L172.2,173.4 L174.7,173.4 L177.2,173.5 L179.6,173.5 L182.1,173.6 L184.6,173.6 L187.1,173.7 L189.6,173.8 L192.0,173.8 L194.5,173.9 L197.0,173.9 L199.5,174.0 L201.9,174.0 L204.4,174.1 L206.9,174.2 L209.4,174.2 L211.9,174.3 L214.3,174.4 L216.8,174.4 L219.3,174.5 L221.8,174.6 L224.2,174.7 L226.7,174.7 L229.2,174.8 L231.7,174.9 L234.1,175.0 L236.6,175.1 L239.1,175.2 L241.6,175.3 L244.1,175.3 L246.5,175.4 L249.0,175.6 L251.5,175.7 L254.0,175.8 L256.4,175.9 L258.9,176.0 L261.4,176.1 L263.9,176.3 L266.4,176.4 L268.8,176.5 L271.3,176.7 L273.8,176.8 L276.3,177.0 L278.7,177.1 L281.2,177.3 L283.7,177.4 L286.2,177.6 L288.7,177.8 L291.1,178.0 L293.6,178.1 L296.1,178.3 L298.6,178.5 L301.0,178.7 L303.5,179.0 L306.0,179.2 L308.5,179.4 L311.0,179.6 L313.4,179.9 L315.9,180.1 L318.4,180.4 L320.9,180.6 L323.3,180.9 L325.8,181.2 L328.3,181.4 L330.8,181.7 L333.3,182.0 L335.7,182.3 L338.2,182.6 L340.7,182.9 L343.2,183.3 L345.6,183.6 L348.1,184.0 L350.6,184.3 L353.1,184.7 L355.6,185.0 L358.0,185.4 L360.5,185.8 L363.0,186.2 L365.5,186.6 L367.9,187.0 L370.4,187.5 L372.9,187.9 L375.4,188.3 L377.9,188.8 L380.3,189.3 L382.8,189.7 L385.3,190.2 L387.8,190.7 L390.2,191.2 L392.7,191.7 L395.2,192.3 L397.7,192.8 L400.1,193.4 L402.6,193.9 L405.1,194.5 L407.6,195.1 L410.1,195.7 L412.5,196.3 L415.0,196.9 L417.5,197.5 L420.0,198.1 L422.4,198.8 L424.9,199.4 L427.4,200.1 L429.9,200.8 L432.4,201.5 L434.8,202.2 L437.3,202.9 L439.8,203.7 L442.3,204.4 L444.7,205.2 L447.2,206.0 L449.7,206.7 L452.2,207.5 L454.7,208.4 L457.1,209.2 L459.6,210.0 L462.1,210.9 L464.6,211.7 L467.0,212.6 L469.5,213.5 L472.0,214.4 L474.5,215.3 L477.0,216.3 L479.4,217.2 L481.9,218.2 L484.4,219.2 L486.9,220.2 L489.3,221.2 L491.8,222.2 L494.3,223.2 L496.8,224.3 L499.3,225.4 L501.7,226.4 L504.2,227.5 L506.7,228.6 L509.2,229.8 L511.6,230.9 L514.1,232.1 L516.6,233.2 L519.1,234.4 L521.6,235.6 L524.0,236.8 L526.5,238.0 L529.0,239.3 L531.5,240.5 L533.9,241.8 L536.4,243.1 L538.9,244.3 L541.4,245.6 L543.8,247.0 L546.3,248.3 L548.8,249.6 L551.3,251.0 L553.8,252.4 L556.2,253.7 L558.7,255.1 L561.2,256.5 L563.7,258.0 L566.1,259.4 L568.6,260.9 L571.1,262.3 L573.6,263.8 L576.1,265.3 L578.5,266.8 L581.0,268.3 L583.5,269.8 L586.0,271.3 L588.4,272.9 L590.9,274.4 L593.4,276.0 L595.9,277.6 L598.4,279.1 L600.8,280.7 L603.3,282.3 L605.8,283.9 L608.3,285.6 L610.7,287.2 L613.2,288.8 L615.7,290.5 L618.2,292.1 L620.7,293.7 L623.1,295.4 L625.6,297.1 L628.1,298.7 L630.6,300.4 L633.0,302.0 L635.5,303.7 L638.0,305.4 L640.5,307.1 L643.0,308.7 L645.4,310.4 L647.9,312.1 L650.4,313.8 L652.9,315.4 L655.3,317.1 L657.8,318.8 L660.3,320.5 L662.8,322.1 L665.3,323.8 L667.7,325.5 L670.2,327.2 L672.7,328.8 L675.2,330.5 L677.6,332.1 L680.1,333.8 L682.6,335.5 L685.1,337.1 L687.6,338.8 L690.0,340.5 L692.5,342.1 L695.0,343.8 L697.5,345.5 L699.9,347.2 L702.4,348.8 L704.9,350.5 L707.4,352.2 L709.8,353.9 L712.3,355.5 L714.8,357.2 L717.3,358.9 L719.8,360.6 L722.2,362.3 L724.7,364.0 L727.2,365.7 L729.7,367.4 L732.1,369.2 L734.6,370.9 L737.1,372.6 L739.6,374.4 L742.1,376.1 L744.5,377.8 L747.0,379.6 L749.5,381.4 L752.0,383.1 L754.4,384.9 L756.9,386.7 L759.4,388.5 L761.9,390.3 L764.4,392.1 L766.8,393.9 L769.3,395.7 L771.8,397.5 L774.3,399.4 L776.7,401.2 L779.2,403.1 L781.7,405.0" stroke="#ff3030" stroke-dasharray="2.3 4.93"/>
<path d="M140.0,159.3 L142.5,160.2 L145.0,161.0 L147.4,161.8 L149.9,162.7 L152.4,163.5 L154.9,164.4 L157.3,165.3 L159.8,166.1 L162.3,167.0 L164.8,167.9 L167.2,168.8 L169.7,169.7 L172.2,170.6 L174.7,171.5 L177.1,172.4 L179.6,173.3 L182.1,174.2 L184.6,175.2 L187.1,176.1 L189.5,177.0 L192.0,178.0 L194.5,178.9 L197.0,179.9 L199.4,180.8 L201.9,181.8 L204.4,182.7 L206.9,183.7 L209.3,184.7 L211.8,185.7 L214.3,186.7 L216.8,187.6 L219.2,188.6 L221.7,189.6 L224.2,190.6 L226.7,191.6 L229.2,192.7 L231.6,193.7 L234.1,194.7 L236.6,195.7 L239.1,196.7 L241.5,197.8 L244.0,198.8 L246.5,199.8 L249.0,200.9 L251.4,201.9 L253.9,203.0 L256.4,204.0 L258.9,205.1 L261.3,206.1 L263.8,207.2 L266.3,208.3 L268.8,209.3 L271.3,210.4 L273.7,211.5 L276.2,212.6 L278.7,213.7 L281.2,214.7 L283.6,215.8 L286.1,216.9 L288.6,218.0 L291.1,219.1 L293.5,220.2 L296.0,221.3 L298.5,222.4 L301.0,223.5 L303.4,224.7 L305.9,225.8 L308.4,226.9 L310.9,228.0 L313.4,229.1 L315.8,230.2 L318.3,231.4 L320.8,232.5 L323.3,233.6 L325.7,234.8 L328.2,235.9 L330.7,237.0 L333.2,238.2 L335.6,239.3 L338.1,240.4 L340.6,241.6 L343.1,242.7 L345.5,243.9 L348.0,245.0 L350.5,246.2 L353.0,247.3 L355.5,248.5 L357.9,249.6 L360.4,250.8 L362.9,252.0 L365.4,253.1 L367.8,254.3 L370.3,255.4 L372.8,256.6 L375.3,257.8 L377.7,258.9 L380.2,260.1 L382.7,261.2 L385.2,262.4 L387.6,263.6 L390.1,264.7 L392.6,265.9 L395.1,267.1 L397.6,268.2 L400.0,269.4 L402.5,270.6 L405.0,271.8 L407.5,272.9 L409.9,274.1 L412.4,275.3 L414.9,276.4 L417.4,277.6 L419.8,278.8 L422.3,279.9 L424.8,281.1 L427.3,282.3 L429.7,283.5 L432.2,284.6 L434.7,285.8 L437.2,287.0 L439.7,288.1 L442.1,289.3 L444.6,290.5 L447.1,291.6 L449.6,292.8 L452.0,294.0 L454.5,295.1 L457.0,296.3 L459.5,297.5 L461.9,298.6 L464.4,299.8 L466.9,300.9 L469.4,302.1 L471.8,303.3 L474.3,304.4 L476.8,305.6 L479.3,306.7 L481.7,307.9 L484.2,309.0 L486.7,310.2 L489.2,311.3 L491.7,312.5 L494.1,313.6 L496.6,314.8 L499.1,315.9 L501.6,317.1 L504.0,318.2 L506.5,319.4 L509.0,320.5 L511.5,321.7 L513.9,322.8 L516.4,323.9 L518.9,325.1 L521.4,326.2 L523.8,327.4 L526.3,328.5 L528.8,329.6 L531.3,330.8 L533.8,331.9 L536.2,333.0 L538.7,334.2 L541.2,335.3 L543.7,336.4 L546.1,337.6 L548.6,338.7 L551.1,339.8 L553.6,340.9 L556.0,342.1 L558.5,343.2 L561.0,344.3 L563.5,345.4 L565.9,346.6 L568.4,347.7 L570.9,348.8 L573.4,349.9 L575.9,351.1 L578.3,352.2 L580.8,353.3 L583.3,354.4 L585.8,355.5 L588.2,356.6 L590.7,357.8 L593.2,358.9 L595.7,360.0 L598.1,361.1 L600.6,362.2 L603.1,363.3 L605.6,364.4 L608.0,365.5 L610.5,366.6 L613.0,367.7 L615.5,368.9 L618.0,370.0 L620.4,371.1 L622.9,372.2 L625.4,373.3 L627.9,374.4 L630.3,375.5 L632.8,376.6 L635.3,377.7 L637.8,378.8 L640.2,379.9 L642.7,381.0 L645.2,382.1 L647.7,383.2 L650.1,384.3 L652.6,385.4 L655.1,386.5 L657.6,387.6 L660.1,388.7 L662.5,389.8 L665.0,390.9 L667.5,391.9 L670.0,393.0 L672.4,394.1 L674.9,395.2 L677.4,396.3 L679.9,397.4 L682.3,398.5 L684.8,399.6 L687.3,400.7 L689.8,401.8 L692.2,402.8 L694.7,403.9 L697.2,405.0 L699.7,406.1 L702.2,407.2 L704.6,408.3 L707.1,409.4 L709.6,410.4 L712.1,411.5 L714.5,412.6 L717.0,413.7 L719.5,414.8 L722.0,415.8 L724.4,416.9 L726.9,418.0 L729.4,419.1 L731.9,420.2 L734.3,421.2 L736.8,422.3 L739.3,423.4 L741.8,424.5 L744.3,425.5 L746.7,426.6 L749.2,427.7 L751.7,428.8 L754.2,429.8 L756.6,430.9 L759.1,432.0 L761.6,433.1 L764.1,434.1 L766.5,435.2 L769.0,436.3 L771.5,437.4 L774.0,438.4 L776.4,439.5 L778.9,440.6 L781.4,441.6" stroke="#ff3030" stroke-dasharray="10.3 10.26"/>
<path d="M140.0,55.8 L142.5,56.0 L145.0,56.4 L147.4,56.7 L149.9,57.0 L152.4,57.4 L154.9,57.8 L157.3,58.2 L159.8,58.6 L162.3,59.0 L164.8,59.4 L167.3,59.9 L169.7,60.4 L172.2,60.9 L174.7,61.4 L177.2,61.9 L179.6,62.5 L182.1,63.1 L184.6,63.6 L187.1,64.2 L189.6,64.9 L192.0,65.5 L194.5,66.2 L197.0,66.9 L199.5,67.6 L201.9,68.3 L204.4,69.0 L206.9,69.8 L209.4,70.6 L211.9,71.4 L214.3,72.2 L216.8,73.0 L219.3,73.9 L221.8,74.7 L224.2,75.6 L226.7,76.6 L229.2,77.5 L231.7,78.5 L234.1,79.4 L236.6,80.4 L239.1,81.5 L241.6,82.5 L244.1,83.6 L246.5,84.7 L249.0,85.8 L251.5,86.9 L254.0,88.0 L256.4,89.2 L258.9,90.3 L261.4,91.5 L263.9,92.7 L266.4,93.9 L268.8,95.1 L271.3,96.4 L273.8,97.6 L276.3,98.9 L278.7,100.2 L281.2,101.4 L283.7,102.7 L286.2,104.0 L288.7,105.3 L291.1,106.6 L293.6,108.0 L296.1,109.3 L298.6,110.6 L301.0,112.0 L303.5,113.3 L306.0,114.6 L308.5,116.0 L311.0,117.3 L313.4,118.7 L315.9,120.1 L318.4,121.4 L320.9,122.8 L323.3,124.1 L325.8,125.5 L328.3,126.8 L330.8,128.2 L333.3,129.5 L335.7,130.9 L338.2,132.2 L340.7,133.6 L343.2,134.9 L345.6,136.2 L348.1,137.6 L350.6,138.9 L353.1,140.2 L355.6,141.5 L358.0,142.8 L360.5,144.1 L363.0,145.3 L365.5,146.6 L367.9,147.9 L370.4,149.1 L372.9,150.3 L375.4,151.5 L377.9,152.7 L380.3,153.9 L382.8,155.1 L385.3,156.3 L387.8,157.4 L390.2,158.6 L392.7,159.7 L395.2,160.9 L397.7,162.0 L400.1,163.1 L402.6,164.2 L405.1,165.3 L407.6,166.4 L410.1,167.5 L412.5,168.6 L415.0,169.6 L417.5,170.7 L420.0,171.8 L422.4,172.9 L424.9,174.0 L427.4,175.0 L429.9,176.1 L432.4,177.2 L434.8,178.3 L437.3,179.3 L439.8,180.4 L442.3,181.5 L444.7,182.6 L447.2,183.7 L449.7,184.8 L452.2,185.9 L454.7,187.0 L457.1,188.1 L459.6,189.3 L462.1,190.4 L464.6,191.5 L467.0,192.6 L469.5,193.8 L472.0,194.9 L474.5,196.0 L477.0,197.2 L479.4,198.3 L481.9,199.5 L484.4,200.6 L486.9,201.8 L489.3,202.9 L491.8,204.1 L494.3,205.3 L496.8,206.4 L499.3,207.6 L501.7,208.8 L504.2,210.0 L506.7,211.2 L509.2,212.4 L511.6,213.6 L514.1,214.8 L516.6,216.0 L519.1,217.2 L521.6,218.4 L524.0,219.6 L526.5,220.8 L529.0,222.1 L531.5,223.3 L533.9,224.5 L536.4,225.8 L538.9,227.0 L541.4,228.3 L543.8,229.5 L546.3,230.8 L548.8,232.0 L551.3,233.3 L553.8,234.6 L556.2,235.9 L558.7,237.1 L561.2,238.4 L563.7,239.7 L566.1,241.0 L568.6,242.3 L571.1,243.6 L573.6,244.9 L576.1,246.2 L578.5,247.6 L581.0,248.9 L583.5,250.2 L586.0,251.6 L588.4,252.9 L590.9,254.2 L593.4,255.6 L595.9,256.9 L598.4,258.3 L600.8,259.7 L603.3,261.0 L605.8,262.4 L608.3,263.8 L610.7,265.2 L613.2,266.6 L615.7,268.0 L618.2,269.4 L620.7,270.8 L623.1,272.2 L625.6,273.6 L628.1,275.0 L630.6,276.5 L633.0,277.9 L635.5,279.3 L638.0,280.8 L640.5,282.2 L643.0,283.7 L645.4,285.1 L647.9,286.6 L650.4,288.1 L652.9,289.5 L655.3,291.0 L657.8,292.5 L660.3,294.0 L662.8,295.5 L665.3,297.0 L667.7,298.4 L670.2,299.9 L672.7,301.5 L675.2,303.0 L677.6,304.5 L680.1,306.0 L682.6,307.5 L685.1,309.0 L687.6,310.5 L690.0,312.1 L692.5,313.6 L695.0,315.1 L697.5,316.6 L699.9,318.2 L702.4,319.7 L704.9,321.2 L707.4,322.8 L709.8,324.3 L712.3,325.8 L714.8,327.4 L717.3,328.9 L719.8,330.5 L722.2,332.0 L724.7,333.6 L727.2,335.1 L729.7,336.7 L732.1,338.2 L734.6,339.8 L737.1,341.3 L739.6,342.8 L742.1,344.4 L744.5,345.9 L747.0,347.5 L749.5,349.0 L752.0,350.6 L754.4,352.1 L756.9,353.7 L759.4,355.2 L761.9,356.8 L764.4,358.3 L766.8,359.8 L769.3,361.4 L771.8,362.9 L774.3,364.5 L776.7,366.0 L779.2,367.5 L781.7,369.1" stroke="#ff3030" stroke-dasharray="10.3 5.1 2.65 5.1"/>
</g>
<g fill="none" stroke-width="4">
<path d="M329,55.2 H362.2" stroke="#ff3030"/>
<path d="M329,82.8 H362.2" stroke="#5fdc5f"/>
<path d="M329,111.0 H362.2" stroke="#0000ff"/>
<path d="M600.4,55.5 H633.9" stroke="#000"/>
<path d="M600.4,83.1 H633.9" stroke="#000" stroke-dasharray="2.3 4.93"/>
<path d="M600.4,110.9 H633.9" stroke="#000" stroke-dasharray="10.4 10.1"/>
<path d="M600.4,138.3 H633.9" stroke="#000" stroke-dasharray="10.4 5 2.7 5.1"/>
</g>
</svg>
<div class="t yl" style="right:691.4px;top:488.5px">10<sup>-8</sup></div>
<div class="t yl" style="right:691.4px;top:421.6px">10<sup>-7</sup></div>
<div class="t yl" style="right:691.4px;top:343.3px">10<sup>-6</sup></div>
<div class="t yl" style="right:691.4px;top:265.0px">10<sup>-5</sup></div>
<div class="t yl" style="right:691.4px;top:186.7px">10<sup>-4</sup></div>
<div class="t yl" style="right:691.4px;top:108.4px">10<sup>-3</sup></div>
<div class="t yl" style="right:691.4px;top:30.1px">10<sup>-2</sup></div>
<div class="t xl" style="left:108.0px;top:532.8px;width:63px;text-align:center">0.01</div>
<div class="t xl" style="left:428.9px;top:532.8px;width:63px;text-align:center">0.10</div>
<div class="t xl" style="left:749.8px;top:532.8px;width:63px;text-align:center">1.00</div>
<div class="t xl" style="left:412px;top:570.4px"><i style="margin-left:1.2px;margin-right:-1.2px">r</i> / <i>r</i><sub class="s">200</sub></div>
<div class="t xl" id="ytitle" style="letter-spacing:-0.2px;left:49.8px;top:471px;transform-origin:0 0;transform:rotate(-90deg) translateY(-30.15px)"><i>S</i><sub class="s" style="font-style:italic;top:6.7px">&gamma;</sub> (<i>E</i><sub class="s" style="font-style:italic;top:6.7px">&gamma;</sub> &gt; 1 GeV) [ph cm<sup class="s" style="font-size:22px;top:-15.8px">-2</sup> s<sup class="s" style="font-size:22px;top:-15.8px">-1</sup>]</div>
<div class="t lg" style="left:386.6px;top:40.0px">CR-<span style="display:inline-block;transform:scaleX(1.12);transform-origin:0 50%;margin-right:1.6px;margin-left:0.6px">&pi;</span><sup class="s" style="font-size:15.5px;top:-11.4px;left:3.2px">0</sup></div>
<div class="t lg" style="left:386.6px;top:68.2px">DM-LP Sum</div>
<div class="t lg" style="left:386.6px;top:95.8px">DM-BM-K&lsquo; Sum</div>
<div class="t lg" style="left:657.8px;top:40.2px">Fornax</div>
<div class="t lg" style="left:657.8px;top:67.9px">Coma</div>
<div class="t lg" style="left:657.8px;top:95.3px">Virgo</div>
<div class="t lg" style="left:657.8px;top:123.0px">Perseus</div>
</body></html>
